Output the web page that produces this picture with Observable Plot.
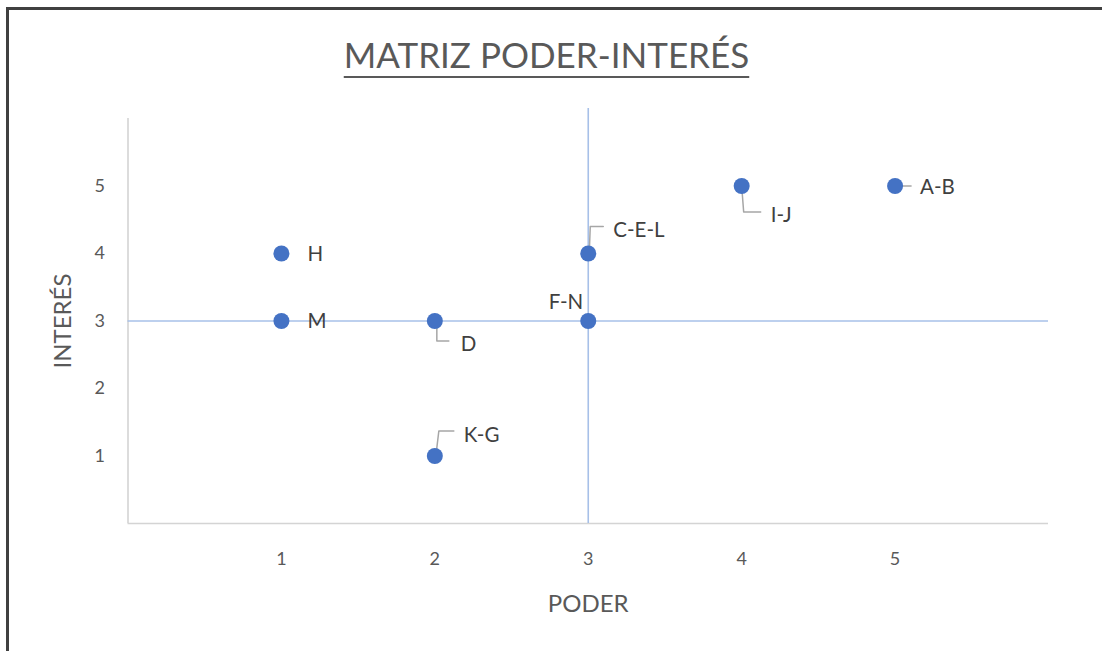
<!DOCTYPE html>
<html><head><meta charset="utf-8">
<script src="https://cdn.jsdelivr.net/npm/d3@7"></script>
<script src="https://cdn.jsdelivr.net/npm/@observablehq/plot@0.6"></script>
<style>
html,body{margin:0;padding:0;background:#fff;font-family:Lato,sans-serif;overflow:hidden}
#wrap{position:relative;width:1105px;height:651px;overflow:hidden;background:#fff}
#border{position:absolute;left:6px;top:7px;width:1096px;height:644px;border-left:3px solid #404040;border-top:3px solid #404040;pointer-events:none;box-sizing:border-box}
#title{position:absolute;left:0;top:37px;width:1093px;text-align:center;font-size:35px;line-height:35px;color:#595959;text-decoration:underline;text-decoration-thickness:2px;text-underline-offset:8px}
#chart{position:absolute;left:0;top:100px;line-height:0}
</style></head>
<body>
<div id="wrap">
  <div id="title"></div>
  <div id="chart"></div>
  <div id="border"></div>
</div>
<script>
const title = "MATRIZ PODER-INTERÉS";
const xLabel = "PODER";
const yLabel = "INTERÉS";
const names = ["H", "M", "D", "K-G", "F-N", "C-E-L", "I-J", "A-B"];
const poder = [1, 1, 2, 2, 3, 3, 4, 5];
const interes = [4, 3, 3, 1, 3, 4, 5, 5];
const xTicks = [1, 2, 3, 4, 5];
const yTicks = [1, 2, 3, 4, 5];
const crossX = 3;
const crossY = 3;

// annotation styling (pixel offsets of labels and leader lines)
const labelPos = {
  "H": [26, 1, "start"], "M": [26, 0, "start"], "D": [26, 23, "start"],
  "K-G": [29, -21, "start"], "F-N": [-5, -19, "end"], "C-E-L": [25, -23, "start"],
  "I-J": [29, 29, "start"], "A-B": [25, 1, "start"]
};
const leaderPath = {
  "D": [[2, 0], [2, 20], [14, 20]],
  "K-G": [[1, 0], [4, -25], [19, -25]],
  "C-E-L": [[1, 0], [2, -27], [15, -27]],
  "I-J": [[0, 0], [2, 26], [19, 26]],
  "A-B": [[0, 0], [16, 0]]
};

document.getElementById("title").textContent = title;

const W = 1105, H = 551, mt = 18, mb = 128, ml = 127.5, mr = 57;
const kx = (W - ml - mr) / 6, ky = (H - mt - mb) / 6;

const pts = names.map((n, i) => ({name: n, x: poder[i], y: interes[i]}));
const labels = pts.map(p => {
  const [dx, dy, anchor] = labelPos[p.name];
  return {name: p.name, x: p.x + dx / kx, y: p.y - dy / ky, anchor};
});
const leaders = [];
pts.forEach(p => {
  const path = leaderPath[p.name];
  if (!path) return;
  path.forEach(([dx, dy]) => leaders.push({name: p.name, x: p.x + dx / kx, y: p.y - dy / ky}));
});

const chart = Plot.plot({
  width: W, height: H,
  marginTop: mt, marginBottom: mb, marginLeft: ml, marginRight: mr,
  style: {fontFamily: "Lato, sans-serif", fontSize: "18px", color: "#595959", background: "transparent"},
  x: {domain: [0, 6]},
  y: {domain: [0, 6]},
  marks: [
    Plot.ruleX([0], {y1: 0, y2: 6, stroke: "#d4d4d4", strokeWidth: 1.6}),
    Plot.ruleY([0], {x1: 0, x2: 6, stroke: "#d4d4d4", strokeWidth: 1.6}),
    Plot.ruleX([crossX], {y1: 0, y2: 6.15, stroke: "#a7c0e8", strokeWidth: 1.6}),
    Plot.ruleY([crossY], {x1: 0, x2: 6, stroke: "#a7c0e8", strokeWidth: 1.6}),
    Plot.axisX({ticks: xTicks, tickSize: 0, tickPadding: 29, label: null, tickFormat: d3.format("d")}),
    Plot.axisY({ticks: yTicks, tickSize: 0, tickPadding: 23, label: null, tickFormat: d3.format("d")}),
    Plot.line(leaders, {x: "x", y: "y", z: "name", stroke: "#a6a6a6", strokeWidth: 1.5}),
    Plot.dot(pts, {x: "x", y: "y", r: 8, fill: "#4472c4", stroke: "none"}),
    Plot.text(labels.filter(d => d.anchor === "start"), {x: "x", y: "y", text: "name", textAnchor: "start", lineAnchor: "middle", fill: "#404040", fontSize: 20.5}),
    Plot.text(labels.filter(d => d.anchor === "end"), {x: "x", y: "y", text: "name", textAnchor: "end", lineAnchor: "middle", fill: "#404040", fontSize: 20.5}),
    Plot.text([xLabel], {frameAnchor: "bottom", dy: 81, textAnchor: "middle", lineAnchor: "middle", fill: "#595959", fontSize: 24}),
    Plot.text([yLabel], {frameAnchor: "left", dx: -65, rotate: -90, textAnchor: "middle", lineAnchor: "middle", fill: "#595959", fontSize: 24})
  ]
});
document.getElementById("chart").appendChild(chart);
</script>
</body></html>
